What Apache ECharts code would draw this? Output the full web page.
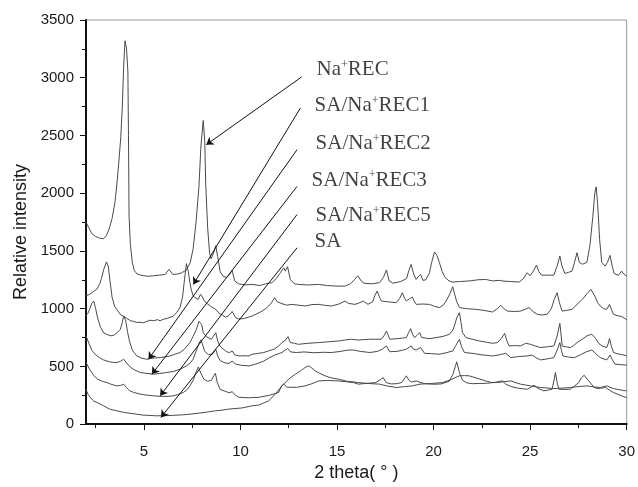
<!DOCTYPE html>
<html>
<head>
<meta charset="utf-8">
<script src="https://cdn.jsdelivr.net/npm/echarts@6/dist/echarts.min.js"></script>
<style>
  html, body { margin: 0; padding: 0; background: #fff; }
  #chart { width: 638px; height: 487px; }
</style>
</head>
<body>
<div id="chart"></div>
<script>
// XRD patterns: [2θ (deg), intensity]
const naRec = [[2.0,1750],[2.15,1700],[2.3,1650],[2.5,1625],[2.7,1610],[2.9,1605],[3.05,1630],[3.2,1690],[3.35,1780],[3.5,1920],[3.6,2080],[3.7,2270],[3.8,2480],[3.88,2750],[3.95,3100],[4.02,3320],[4.1,3250],[4.17,3050],[4.2,2500],[4.23,1800],[4.3,1550],[4.4,1400],[4.5,1330],[4.65,1300],[4.9,1288],[5.2,1280],[5.5,1285],[5.8,1290],[6.1,1296],[6.3,1340],[6.5,1296],[6.75,1300],[6.95,1310],[7.2,1335],[7.4,1400],[7.55,1520],[7.7,1750],[7.85,2060],[7.95,2400],[8.07,2630],[8.15,2450],[8.2,2080],[8.3,1700],[8.4,1480],[8.48,1430],[8.6,1480],[8.72,1545],[8.82,1450],[8.95,1320],[9.1,1280],[9.3,1270],[9.45,1300],[9.57,1330],[9.7,1240],[9.9,1215],[10.2,1205],[10.6,1210],[11.0,1200],[11.3,1215],[11.63,1225],[11.85,1260],[12.07,1311],[12.24,1354],[12.32,1325],[12.44,1363],[12.58,1253],[12.8,1215],[13.0,1210],[13.5,1205],[14.04,1210],[14.5,1200],[15.0,1195],[15.4,1195],[15.7,1215],[15.9,1250],[16.08,1285],[16.25,1240],[16.4,1220],[16.8,1215],[17.2,1225],[17.4,1270],[17.56,1335],[17.7,1240],[17.9,1220],[18.3,1235],[18.6,1260],[18.72,1330],[18.84,1383],[18.97,1300],[19.1,1253],[19.22,1280],[19.33,1296],[19.45,1245],[19.6,1250],[19.79,1311],[19.9,1400],[20.05,1490],[20.18,1460],[20.3,1400],[20.45,1320],[20.6,1270],[20.8,1240],[21.0,1230],[21.4,1235],[21.85,1240],[22.3,1250],[22.7,1253],[23.05,1240],[23.4,1245],[23.65,1238],[24.0,1235],[24.43,1230],[24.65,1260],[24.85,1311],[24.99,1285],[25.15,1320],[25.33,1377],[25.45,1320],[25.6,1290],[25.9,1290],[26.23,1290],[26.4,1370],[26.54,1455],[26.65,1370],[26.8,1305],[27.0,1315],[27.17,1325],[27.3,1400],[27.43,1484],[27.55,1400],[27.7,1385],[27.94,1400],[28.1,1550],[28.25,1800],[28.35,2000],[28.42,2055],[28.5,1900],[28.6,1600],[28.71,1400],[28.89,1368],[29.0,1400],[29.14,1461],[29.25,1370],[29.35,1305],[29.57,1288],[29.74,1325],[29.85,1300],[30.0,1280]];

const saRec1 = [[2.0,1110],[2.2,1125],[2.4,1150],[2.57,1170],[2.7,1210],[2.8,1260],[2.92,1340],[3.06,1405],[3.15,1370],[3.25,1230],[3.35,1100],[3.48,1020],[3.65,980],[3.8,945],[4.0,930],[4.12,915],[4.3,895],[4.46,890],[4.63,880],[4.8,882],[4.98,878],[5.15,890],[5.32,900],[5.5,895],[5.7,905],[5.84,895],[6.0,908],[6.2,915],[6.35,925],[6.52,935],[6.69,965],[6.87,1010],[7.0,1100],[7.1,1250],[7.2,1390],[7.3,1320],[7.38,1225],[7.46,1160],[7.55,1110],[7.7,1090],[7.81,1080],[7.93,1124],[8.03,1100],[8.15,1060],[8.3,1040],[8.5,1015],[8.72,994],[8.89,960],[9.06,945],[9.23,925],[9.4,940],[9.57,975],[9.75,922],[9.92,910],[10.2,915],[10.4,925],[10.6,936],[10.85,955],[11.12,979],[11.3,1000],[11.46,1023],[11.6,1050],[11.77,1095],[11.9,1060],[11.98,1046],[12.2,1040],[12.4,1030],[12.66,1037],[13.0,1030],[13.35,1023],[13.7,1035],[14.04,1037],[14.4,1028],[14.72,1023],[15.1,1040],[15.41,1066],[15.6,1045],[15.93,1037],[16.1,1046],[16.36,1066],[16.6,1037],[16.85,1060],[16.95,1110],[17.08,1152],[17.2,1100],[17.3,1066],[17.6,1060],[17.85,1055],[18.07,1052],[18.25,1090],[18.38,1138],[18.5,1090],[18.59,1066],[18.75,1085],[18.9,1100],[19.0,1065],[19.1,1037],[19.4,1040],[19.79,1037],[20.05,1020],[20.3,1009],[20.5,1030],[20.65,1066],[20.85,1130],[20.99,1190],[21.1,1120],[21.2,1060],[21.34,1009],[21.7,1000],[22.19,994],[22.6,985],[23.05,971],[23.3,1000],[23.48,1028],[23.65,1000],[23.82,979],[24.2,975],[24.51,979],[24.75,995],[24.94,1009],[25.15,975],[25.37,951],[25.6,945],[25.88,951],[26.1,1000],[26.25,1080],[26.4,1138],[26.52,1050],[26.66,979],[26.9,985],[27.17,994],[27.43,1037],[27.7,1080],[27.95,1130],[28.15,1167],[28.35,1110],[28.5,1050],[28.63,1023],[28.8,1000],[28.97,994],[29.11,1037],[29.22,990],[29.32,951],[29.5,940],[29.74,931],[30.0,905]];

const saRec2 = [[2.0,940],[2.1,960],[2.2,1000],[2.3,1045],[2.4,1066],[2.5,1000],[2.6,920],[2.75,840],[2.92,790],[3.1,775],[3.3,765],[3.43,769],[3.6,790],[3.78,821],[3.88,880],[3.95,936],[4.05,900],[4.15,800],[4.25,720],[4.4,640],[4.63,590],[4.9,570],[5.15,562],[5.35,568],[5.6,574],[5.84,576],[6.1,582],[6.35,590],[6.6,605],[6.87,620],[7.1,650],[7.38,706],[7.55,760],[7.72,821],[7.85,890],[7.92,907],[8.0,860],[8.07,792],[8.25,755],[8.5,735],[8.6,760],[8.72,792],[8.82,720],[8.93,677],[9.1,650],[9.3,625],[9.44,620],[9.57,634],[9.7,600],[9.92,590],[10.2,592],[10.44,590],[10.6,605],[10.9,612],[11.2,620],[11.46,634],[11.75,650],[11.98,677],[12.15,706],[12.32,725],[12.46,758],[12.58,706],[12.8,700],[13.0,691],[13.5,700],[14.04,706],[14.5,712],[15.07,720],[15.4,728],[15.75,735],[16.1,728],[16.4,732],[16.7,735],[17.0,735],[17.3,735],[17.45,770],[17.56,806],[17.65,770],[17.73,735],[18.1,740],[18.4,745],[18.59,749],[18.7,790],[18.81,827],[18.92,775],[19.02,749],[19.15,770],[19.28,792],[19.38,750],[19.45,735],[19.8,740],[20.13,749],[20.5,760],[20.82,778],[21.0,815],[21.08,850],[21.2,920],[21.34,965],[21.42,880],[21.5,792],[21.68,749],[22.0,735],[22.37,720],[22.7,710],[23.05,700],[23.31,706],[23.5,740],[23.68,786],[23.8,720],[23.91,677],[24.2,680],[24.51,677],[24.77,700],[25.02,691],[25.3,675],[25.54,663],[25.9,670],[26.23,677],[26.4,763],[26.54,873],[26.6,780],[26.66,677],[26.9,668],[27.08,663],[27.25,680],[27.43,706],[27.7,735],[27.95,765],[28.2,778],[28.4,740],[28.55,700],[28.72,677],[28.97,663],[29.05,700],[29.11,741],[29.2,680],[29.32,620],[29.5,610],[29.66,605],[29.85,598],[30.0,590]];

const saRec3 = [[2.0,765],[2.15,700],[2.3,640],[2.5,600],[2.7,575],[2.92,555],[3.2,540],[3.4,535],[3.6,533],[3.8,545],[3.95,562],[4.1,530],[4.29,495],[4.5,470],[4.81,447],[5.1,440],[5.49,432],[5.8,438],[6.18,447],[6.5,455],[6.87,475],[7.2,504],[7.4,530],[7.55,562],[7.72,640],[7.85,700],[7.95,730],[8.05,680],[8.15,630],[8.35,600],[8.58,610],[8.72,650],[8.82,590],[8.95,550],[9.2,530],[9.4,525],[9.57,545],[9.75,520],[10.0,510],[10.44,504],[10.8,520],[11.2,545],[11.5,575],[11.8,600],[12.15,620],[12.3,640],[12.45,655],[12.6,625],[12.9,620],[13.3,625],[13.8,618],[14.3,622],[14.72,620],[15.2,630],[15.5,640],[15.84,642],[16.2,630],[16.7,620],[17.1,630],[17.35,650],[17.56,677],[17.73,627],[18.1,630],[18.4,640],[18.6,650],[18.84,677],[18.95,650],[19.1,642],[19.33,663],[19.53,613],[19.9,610],[20.3,605],[20.7,620],[20.99,634],[21.15,680],[21.34,735],[21.45,670],[21.6,620],[22.0,613],[22.5,600],[23.05,590],[23.4,600],[23.74,613],[24.0,576],[24.4,585],[24.85,590],[25.1,598],[25.3,575],[25.54,556],[25.9,565],[26.23,576],[26.4,640],[26.54,706],[26.62,640],[26.7,590],[27.0,580],[27.3,576],[27.6,600],[27.9,625],[28.2,642],[28.4,610],[28.63,576],[28.97,556],[29.14,598],[29.25,560],[29.4,519],[29.7,515],[30.0,510]];

const saRec5 = [[2.0,535],[2.2,470],[2.4,420],[2.6,390],[2.85,370],[3.09,360],[3.3,345],[3.6,331],[3.8,335],[3.95,346],[4.1,315],[4.25,290],[4.46,275],[4.8,260],[5.15,251],[5.5,245],[5.84,240],[6.2,240],[6.52,245],[6.8,258],[7.04,274],[7.25,300],[7.38,331],[7.55,380],[7.7,450],[7.82,495],[7.95,440],[8.1,390],[8.3,370],[8.5,380],[8.62,420],[8.7,440],[8.8,360],[8.95,300],[9.2,285],[9.4,272],[9.57,280],[9.75,250],[9.92,232],[10.4,228],[10.95,232],[11.5,250],[11.98,274],[12.12,330],[12.24,346],[12.4,320],[12.5,308],[12.9,318],[13.35,331],[13.7,350],[14.04,374],[14.5,378],[15.07,374],[15.5,366],[15.84,360],[16.1,346],[16.5,352],[17.0,360],[17.2,380],[17.39,403],[17.55,360],[17.8,348],[18.1,350],[18.35,360],[18.59,418],[18.72,380],[18.85,365],[19.1,374],[19.35,358],[19.6,350],[20.0,345],[20.4,348],[20.8,370],[21.0,430],[21.2,539],[21.35,440],[21.5,380],[21.7,358],[22.0,350],[22.4,352],[22.79,354],[23.2,362],[23.4,370],[23.57,374],[23.75,345],[24.0,326],[24.4,310],[24.85,302],[25.05,320],[25.2,337],[25.4,310],[25.71,288],[25.95,295],[26.14,302],[26.25,390],[26.31,447],[26.4,360],[26.49,302],[26.8,300],[27.08,302],[27.3,330],[27.52,360],[27.65,400],[27.8,423],[27.95,390],[28.11,360],[28.3,320],[28.46,308],[28.7,312],[28.9,317],[29.1,295],[29.31,274],[29.6,255],[29.8,240],[30.0,230]];

const sa = [[2.0,300],[2.1,260],[2.25,225],[2.4,200],[2.57,187],[2.9,160],[3.22,130],[3.6,115],[4.0,100],[4.46,90],[4.94,78],[5.32,75],[5.6,72],[5.99,72],[6.5,76],[7.0,80],[7.4,86],[7.85,95],[8.3,105],[8.7,115],[9.0,120],[9.4,130],[10.09,140],[10.6,158],[10.95,165],[11.46,201],[11.8,260],[12.15,331],[12.5,390],[12.84,432],[13.1,460],[13.27,481],[13.45,500],[13.56,504],[13.7,485],[13.87,461],[14.1,440],[14.38,418],[14.7,400],[15.07,389],[15.5,372],[16.1,360],[16.6,352],[17.2,346],[17.6,330],[18.07,317],[18.5,325],[18.9,331],[19.3,346],[19.9,352],[20.47,360],[20.9,385],[21.33,418],[21.6,420],[21.85,418],[22.3,395],[22.7,374],[23.0,360],[23.3,360],[23.7,368],[24.0,374],[24.5,346],[25.02,331],[25.54,317],[26.23,308],[26.7,312],[27.08,317],[27.5,325],[27.94,331],[28.3,322],[28.63,317],[28.97,331],[29.31,308],[29.7,295],[30.0,288]];

const xMajorTicks = [5, 10, 15, 20, 25, 30];
const xMinorTicks = [2.5, 7.5, 12.5, 17.5, 22.5, 27.5];

// Sample labels (name, superscript, suffix) with their callout arrows, in data units
const sampleLabels = [
  { pre: 'Na', post: 'REC',   at: [13.94, 3072], from: [13.17, 3007], to: [8.23, 2420] },
  { pre: 'SA/Na', post: 'REC1', at: [13.84, 2757], from: [13.10, 2737], to: [7.56, 1210] },
  { pre: 'SA/Na', post: 'REC2', at: [13.89, 2428], from: [12.93, 2377], to: [5.24, 562] },
  { pre: 'SA/Na', post: 'REC3', at: [13.68, 2113], from: [12.93, 2059], to: [5.41, 432] },
  { pre: 'SA/Na', post: 'REC5', at: [13.89, 1806], from: [12.93, 1815], to: [5.84, 245] },
  { pre: 'SA', post: null,     at: [13.84, 1582], from: [12.93, 1527], to: [5.88, 58] }
];

const curves = [naRec, saRec1, saRec2, saRec3, saRec5, sa];
const curveColor = '#4a4a4a';
const sansFont = '"Liberation Sans", Arial, sans-serif';
const serifFont = '"Liberation Serif", "Times New Roman", serif';

const chart = echarts.init(document.getElementById('chart'), null, { renderer: 'canvas' });

const lineSeries = curves.map(function (d) {
  return {
    type: 'line',
    data: d,
    showSymbol: false,
    symbol: 'none',
    smooth: false,
    lineStyle: { color: curveColor, width: 1 },
    silent: true,
    z: 2
  };
});

const arrowSeries = {
  type: 'lines',
  coordinateSystem: 'cartesian2d',
  symbol: ['none', 'arrow'],
  symbolSize: [0, 7],
  lineStyle: { color: '#111', width: 1, opacity: 1 },
  data: sampleLabels.map(function (s) { return { coords: [s.from, s.to] }; }),
  silent: true,
  z: 3
};

const textSeries = {
  type: 'scatter',
  symbolSize: 0,
  silent: true,
  z: 4,
  data: sampleLabels.map(function (s) {
    return {
      value: s.at,
      label: {
        show: true,
        position: 'right',
        distance: 0,
        formatter: s.post ? '{t|' + s.pre + '}{s|+}{t|' + s.post + '}' : '{t|' + s.pre + '}',
        rich: {
          t: { fontFamily: serifFont, fontSize: 21, color: '#111', lineHeight: 22 },
          s: { fontFamily: serifFont, fontSize: 12, color: '#111', verticalAlign: 'top', lineHeight: 12 }
        }
      }
    };
  })
};

chart.setOption({
  animation: false,
  backgroundColor: '#fff',
  grid: {
    left: 86, right: 8, top: 20, bottom: 62,
    show: true, borderColor: '#9a9a9a', borderWidth: 1
  },
  xAxis: [
    {
      type: 'value', min: 2, max: 30,
      name: '2 theta( ° )', nameLocation: 'middle', nameGap: 33,
      nameTextStyle: { fontFamily: sansFont, fontSize: 18, color: '#1a1a1a' },
      axisLine: { show: true, onZero: false, lineStyle: { color: '#111', width: 2 } },
      axisTick: { show: true, customValues: xMajorTicks, length: 6, lineStyle: { color: '#111', width: 1 } },
      axisLabel: { customValues: xMajorTicks, fontFamily: sansFont, fontSize: 15, color: '#1a1a1a', margin: 20 },
      splitLine: { show: false }
    },
    {
      type: 'value', min: 2, max: 30, position: 'bottom',
      axisLine: { show: false },
      axisTick: { show: true, customValues: xMinorTicks, length: 4, lineStyle: { color: '#111', width: 1 } },
      axisLabel: { show: false },
      splitLine: { show: false }
    }
  ],
  yAxis: {
    type: 'value', min: 0, max: 3500, interval: 500,
    name: 'Relative intensity', nameLocation: 'middle', nameGap: 46, nameRotate: 90,
    nameTextStyle: { fontFamily: sansFont, fontSize: 18, color: '#1a1a1a', padding: [0, 20, 0, 0] },
    axisLine: { show: true, onZero: false, lineStyle: { color: '#111', width: 2 } },
    axisTick: { show: true, length: 6, lineStyle: { color: '#111', width: 1 } },
    minorTick: { show: true, splitNumber: 2, length: 4, lineStyle: { color: '#111', width: 1 } },
    axisLabel: {
      fontFamily: sansFont, fontSize: 15, color: '#1a1a1a', margin: 12,
      formatter: function (v) { return String(v); }
    },
    splitLine: { show: false },
    minorSplitLine: { show: false }
  },
  series: lineSeries.concat([arrowSeries, textSeries])
});
</script>
</body>
</html>
